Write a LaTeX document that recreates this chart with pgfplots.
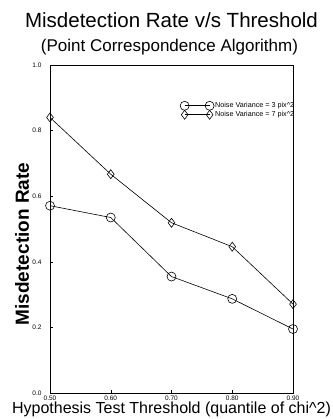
\documentclass[border=0pt]{standalone}
\usepackage{fontspec}
\setmainfont{Liberation Sans}
\usepackage{pgfplots}
\pgfplotsset{compat=1.18}
\usetikzlibrary{calc}
\begin{document}
\begin{tikzpicture}
\begin{axis}[
  name=ax,
  scale only axis, width=243pt, height=328pt,
  xmin=0.5, xmax=0.9, ymin=0, ymax=1,
  xtick={0.5,0.6,0.7,0.8,0.9},
  xticklabels={0.50,0.60,0.70,0.80,0.90},
  ytick={0,0.2,0.4,0.6,0.8,1.0},
  yticklabels={0.0,0.2,0.4,0.6,0.8,1.0},
  tick pos=left, tick align=inside, major tick length=3pt,
  tick style={black, line width=0.5pt},
  ticklabel style={font=\fontsize{6.5}{7}\selectfont},
  yticklabel style={xshift=-5pt},
  xticklabel style={yshift=1pt},
  axis line style={line width=0.8pt},
  legend style={draw=none, fill=none, at={(1.01,0.89)}, anchor=north east,
    font=\fontsize{7.2}{8}\selectfont, row sep=0pt, inner sep=0pt,
    cells={anchor=west}, nodes={inner sep=1pt}},
  legend image code/.code={\draw[mark repeat=1,#1] plot coordinates {(0pt,0pt) (25pt,0pt)};},
  legend cell align=left,
]
\addplot[black, line width=0.6pt, mark=o, mark size=4.5pt, mark options={solid, line width=0.6pt}]
  coordinates {(0.5,0.571) (0.6,0.535) (0.7,0.355) (0.8,0.287) (0.9,0.195)};
\addlegendentry{Noise Variance = 3 pix\^{}2}
\addplot[black, line width=0.6pt, mark=diamond, mark size=4.5pt, mark options={solid, line width=0.6pt}]
  coordinates {(0.5,0.84) (0.6,0.667) (0.7,0.519) (0.8,0.446) (0.9,0.271)};
\addlegendentry{Noise Variance = 7 pix\^{}2}
\coordinate (bl) at (rel axis cs:0,0);
\coordinate (tr) at (rel axis cs:1,1);
\end{axis}
\node[font=\fontsize{20.5}{23}\selectfont, anchor=base] at ($(bl)!0.5!(bl-|tr)+(0,393pt-28pt)$) {Misdetection Rate v/s Threshold};
\node[font=\fontsize{17}{19}\selectfont, anchor=base] at ($(bl)!0.5!(bl-|tr)+(-2pt,393pt-52pt)$) {(Point Correspondence Algorithm)};
\node[font=\fontsize{16}{18}\selectfont, anchor=base] at ($(bl)!0.5!(bl-|tr)+(0pt,-20pt)$) {Hypothesis Test Threshold (quantile of chi\^{}2)};
\node[font=\bfseries\fontsize{19}{21}\selectfont, rotate=90, anchor=center] at ($(bl)+(-28pt,149pt)$) {Misdetection Rate};
\pgfresetboundingbox
\path[use as bounding box] ($(bl)+(-50pt,-26pt)$) rectangle ($(tr)+(39pt,65pt)$);
\end{tikzpicture}
\end{document}
